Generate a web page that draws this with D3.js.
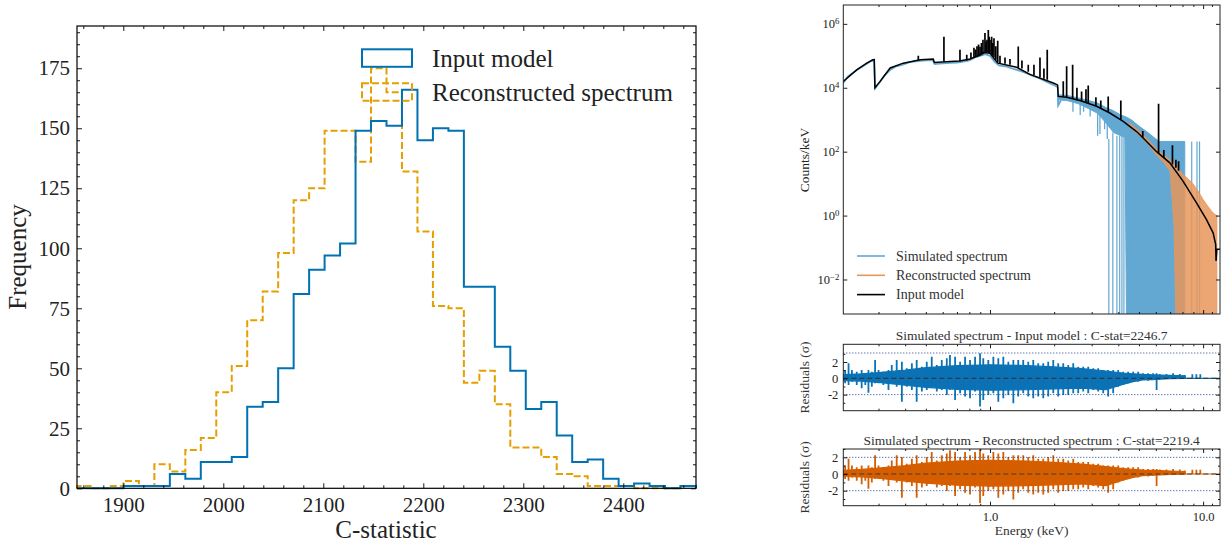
<!DOCTYPE html>
<html lang="en">
<head>
<meta charset="UTF-8">
<title>C-statistic distribution and spectrum</title>
<script src="https://d3js.org/d3.v7.min.js"></script>
<style>
  body { margin: 0; background: #fff; }
</style>
</head>
<body>
<script>
// ---------- left panel: C-statistic histograms (40 bins) ----------
var binStart = 1853.7, binWidth = 15.475;
var inputCounts = [0,0,0,1,1,1,6,4,11,11, 13,34,36,50,81,91,97,102,149,153,
                   151,166,145,150,149,84,84,59,49,33, 36,22,11,12,4,1,2,1,0,1];
var reconCounts = [1,0,1,3,1,10,7,16,21,40, 51,70,82,98,120,125,149,149,136,175,
                   165,132,107,76,75,44,49,35,17,17, 13,6,5,1,1,1,0,0,0,1];
var histXTicks = [1900, 2000, 2100, 2200, 2300, 2400];
var histYTicks = [0, 25, 50, 75, 100, 125, 150, 175];
var histLegend = ["Input model", "Reconstructed spectrum"];

// ---------- right panel: spectrum (energy keV, log10 counts/keV) ----------
var contE   = [0.205,0.237,0.264,0.282,0.2865,0.2885,0.305,0.34,0.392,0.47,0.542,0.548,0.65,0.72,0.806,0.88,0.93,1.0,1.05,1.09,
               1.334,1.54,1.98,2.075,2.09,2.289,2.642,3.165,3.65,4.217,4.872,5.23,6.05,6.98,8.06,9.31,10.37,11.14,11.45,11.5,11.6,12.0];
var contLog = [4.20,4.56,4.77,4.875,4.88,4.0,4.2,4.62,4.77,4.875,4.9,4.79,4.82,4.84,4.9,5.0,5.1,5.08,4.9,4.77,
               4.64,4.42,4.15,4.09,3.73,3.70,3.60,3.42,3.21,2.95,2.63,2.43,2.0,1.65,1.07,0.40,-0.125,-0.54,-0.9,-1.42,-1.05,-1.05];
// emission lines: energy, continuum level, peak level
var lineE    = [0.461,0.608,0.723,0.778,0.814,0.841,0.855,0.869,0.884,0.898,0.912,0.927,0.947,0.958,0.968,0.982,0.991,1.0,1.018,1.03,
                1.044,1.065,1.087,1.114,1.176,1.241,1.357,1.412,1.512,1.608,1.716,1.791,1.856,2.207,2.289,2.442,2.558,2.69,2.82,2.89,
                3.14,3.31,3.586,4.11,5.21,6.18,6.54,7.18,7.45,7.67];
var lineBase = [4.86,4.82,4.83,4.85,4.9,4.95,4.96,4.98,4.99,5.0,5.02,5.05,5.08,5.09,5.1,5.1,5.09,5.08,5.05,5.0,
                4.95,4.88,4.8,4.77,4.75,4.72,4.63,4.6,4.5,4.4,4.33,4.28,4.25,3.72,3.7,3.65,3.6,3.58,3.55,3.52,
                3.42,3.36,3.23,3.0,2.44,1.95,1.8,1.6,1.5,1.4];
var linePeak = [5.0,5.6,5.19,5.03,5.1,5.25,5.2,5.3,5.35,5.28,5.4,5.5,5.71,5.45,5.5,5.81,5.6,5.5,5.6,5.4,
                5.55,5.3,5.47,5.0,4.95,4.9,5.29,4.85,4.72,4.72,4.95,4.6,5.19,4.2,4.67,4.72,4.0,3.88,3.95,4.07,
                3.7,3.6,3.73,3.6,2.65,3.5,2.05,2.2,1.75,1.7];
// simulated spectrum, low-energy part
var simLowE   = [0.205,0.215,0.225,0.24,0.26,0.28,0.286,0.289,0.30,0.32,0.34,0.36,0.39,0.42,0.47,0.50,0.54,0.55,0.60,0.65,
                 0.70,0.75,0.80,0.85,0.90,0.95,1.0,1.05,1.1,1.2,1.3,1.4,1.5,1.6,1.7,1.8,1.9,2.0,2.08,2.09,2.15];
var simLowLog = [4.15,4.35,4.45,4.58,4.72,4.86,4.80,3.98,4.12,4.38,4.56,4.66,4.72,4.80,4.84,4.86,4.86,4.74,4.76,4.78,
                 4.79,4.82,4.86,4.95,5.0,5.05,5.0,4.82,4.70,4.66,4.58,4.52,4.44,4.36,4.30,4.22,4.14,4.08,4.02,3.45,3.6];
// simulated spectrum, high-energy band (-3.2 = empty bins)
var simBandE   = [2.09,2.3,2.6,2.9,3.2,3.5,3.8,4.1,4.3,4.37,4.6,5.0,5.5,6.0,6.2,7.0,8.0,8.2];
var simBandTop = [3.78,3.76,3.68,3.6,3.52,3.38,3.28,3.15,3.1,3.08,3.0,2.8,2.6,2.4,2.32,2.32,2.32,2.32];
var simBandBot = [3.62,3.6,3.5,3.35,3.2,2.9,2.6,2.5,2.45,-3.2,-3.2,-3.2,-3.2,-3.2,-3.2,-3.2,-3.2,-3.2];
var simSpikeE   = [2.09,2.45,2.65,2.75,2.95,3.2,3.28,3.45,3.55];
var simSpikeLow = [3.45,3.25,3.15,3.25,3.1,2.5,2.55,2.7,2.4];
var simSpikeTop = [3.7,3.6,3.55,3.5,3.45,3.4,3.35,3.3,3.25];
var simDropE   = [3.61,3.77,3.94,4.06,4.16,4.25,8.84,9.36,9.62];
var simDropTop = [2.4,2.6,2.5,2.5,2.6,2.5,2.32,2.32,2.32];
// reconstructed spectrum band
var recBandE   = [4.5,5.0,5.5,6.0,6.5,7.0,7.3,7.45,7.6,8.0,8.5,9.0,9.5,10.0,10.5,11.0,11.3,11.6];
var recBandTop = [2.9,2.65,2.38,2.1,1.9,1.74,1.64,1.58,1.5,1.3,1.15,0.98,0.75,0.5,0.3,0.12,0.05,0.0];
var recBandBot = [2.78,2.52,2.25,1.92,1.68,1.4,-0.3,-3.2,-3.2,-3.2,-3.2,-3.2,-3.2,-3.2,-3.2,-3.2,-3.2,-3.2];
var specYTicks = [-2, 0, 2, 4, 6];
var specLegend = ["Simulated spectrum", "Reconstructed spectrum", "Input model"];

// ---------- residuals (sigma): spike extremes and dense core of the residual curve ----------
var resE  = [0.209,0.217,0.225,0.237,0.250,0.260,0.269,0.279,0.289,0.300,
             0.316,0.334,0.346,0.365,0.386,0.407,0.430,0.453,0.479,0.505,
             0.533,0.563,0.594,0.627,0.649,0.686,0.724,0.764,0.806,0.851,
             0.898,0.930,0.982,1.037,1.094,1.155,1.219,1.287,1.357,1.432,
             1.512,1.596,1.684,1.778,1.876,1.981,2.090,2.207,2.329,2.458,
             2.594,2.738,2.890,3.050,3.219,3.398,3.586,3.785,3.995,4.217,
             4.450,4.697,4.958,5.232,5.520,5.830,6.050,6.260,6.730,7.230,
             7.770,8.200,8.3,8.9,9.0,9.3,9.4,9.7,9.8,12.0];
var resHi = [1.02,1.84,1.02,0.82,1.02,0.61,1.02,0.82,2.24,1.02,
             0.82,1.02,1.63,2.24,2.04,1.22,1.84,2.24,1.43,2.04,
             2.65,1.63,2.24,2.45,2.86,2.65,2.04,2.65,2.24,2.65,
             3.06,2.45,2.24,2.65,2.45,2.65,2.04,2.24,2.24,2.24,
             2.04,2.24,1.84,1.84,2.04,2.24,1.84,1.84,1.63,1.84,
             1.43,1.43,1.43,1.22,1.22,1.02,1.02,1.02,1.02,0.82,
             0.82,0.82,0.82,0.61,0.61,0.61,0.61,0.53,0.53,0.61,
             0.53,0.41,0,0.5,0,0.5,0,0.5,0,0];
var resLo = [-0.61,-0.82,-0.41,-0.82,-1.22,-0.82,-1.76,-1.02,-0.61,-0.61,
             -0.82,-1.43,-0.41,-1.02,-2.86,-1.02,-1.43,-2.86,-1.63,-1.43,
             -1.02,-1.63,-1.43,-2.04,-1.43,-2.65,-1.84,-2.24,-2.45,-1.63,
             -3.47,-2.65,-2.04,-1.84,-2.86,-2.45,-2.04,-3.06,-2.24,-1.84,
             -2.24,-2.45,-2.24,-2.45,-2.24,-1.84,-2.24,-2.04,-2.04,-1.84,
             -1.84,-1.63,-1.84,-1.43,-1.63,-1.84,-2.24,-1.84,-1.02,-0.82,
             -0.61,-0.41,-0.41,-0.2,-0.29,-0.2,-1.43,-0.12,-0.04,-0.04,
             -0.04,-0.04,0,0,0,0,0,0,0,0];
var coreE  = [0.205,0.25,0.3,0.4,0.5,0.7,1.0,1.5,2.0,2.7,3.5,4.2,4.7,5.2,5.8,6.3,7.0,8.2,8.3,12.0];
var coreHi = [0.45,0.55,0.7,1.0,1.3,1.55,1.65,1.55,1.4,1.2,0.9,0.65,0.55,0.48,0.44,0.4,0.36,0.3,0,0];
var coreLo = [-0.3,-0.35,-0.5,-0.85,-1.1,-1.35,-1.45,-1.4,-1.3,-1.2,-1.4,-0.75,-0.4,-0.2,-0.15,-0.1,-0.04,-0.02,0,0];
var resYTicks = [-2, 0, 2];
var resPanels = [
  {title: "Simulated spectrum - Input model : C-stat=2246.7", color: "#0b72b5", dom: [-3.97, 4.17], top: 344.3, bottom: 410.7, guides: [3.1, -2]},
  {title: "Simulated spectrum - Reconstructed spectrum : C-stat=2219.4", color: "#d55e00", dom: [-3.8, 3.0], top: 449, bottom: 505.7, guides: [2, -2]}
];
var energyTicks = [1, 10];
var energyMinor = [0.3,0.4,0.5,0.6,0.7,0.8,0.9,2,3,4,5,6,7,8,9,11];

var serif = '"Liberation Serif","Times New Roman",serif';
var svg = d3.select("body").append("svg").attr("width", 1225).attr("height", 545);

function styleAxis(g, fs) {
  g.select(".domain").remove();
  g.attr("font-family", serif).attr("font-size", fs);
  g.selectAll(".tick line").attr("stroke", "#000").attr("stroke-width", 0.9);
  g.selectAll(".tick text").attr("fill", "#222");
  return g;
}
function tickSet(scale, x0, x1, y0, y1, majors, minors, majLen, minLen, horiz) {
  // ticks on all four sides, pointing inward, no labels
  var sides = horiz ? [[d3.axisBottom, y1], [d3.axisTop, y0]] : [[d3.axisLeft, x0], [d3.axisRight, x1]];
  sides.forEach(function (s) {
    [[majors, majLen], [minors, minLen]].forEach(function (m) {
      var g = svg.append("g").attr("transform", horiz ? "translate(0," + s[1] + ")" : "translate(" + s[1] + ",0)")
        .call(s[0](scale).tickValues(m[0]).tickSize(-m[1]).tickFormat(""));
      styleAxis(g, 10);
    });
  });
}

// ================= histogram =================
var hx = d3.scaleLinear().domain([binStart, binStart + binWidth * inputCounts.length]).range([77, 696]);
var hy = d3.scaleLinear().domain([0, 192.6]).range([488.3, 26]);
var edges = d3.range(inputCounts.length + 1).map(function (i) { return binStart + i * binWidth; });
function stepPts(counts) {
  var p = [[edges[0], 0]];
  counts.forEach(function (c, i) { p.push([edges[i], c]); p.push([edges[i + 1], c]); });
  p.push([edges[edges.length - 1], 0]);
  return p;
}
var stepLine = d3.line().x(function (d) { return hx(d[0]); }).y(function (d) { return hy(d[1]); });

svg.append("path").attr("d", stepLine(stepPts(reconCounts))).attr("fill", "none")
  .attr("stroke", "#e69f00").attr("stroke-width", 2).attr("stroke-dasharray", "7,3");
svg.append("path").attr("d", stepLine(stepPts(inputCounts))).attr("fill", "none")
  .attr("stroke", "#0072b2").attr("stroke-width", 2);

var hMinorX = d3.range(1860, 2472, 20).filter(function (v) { return v % 100 !== 0; });
var hMinorY = d3.range(0, 192, 5).filter(function (v) { return v % 25 !== 0; });
tickSet(hx, 77, 696, 26, 488.3, histXTicks, hMinorX, 5, 3, true);
tickSet(hy, 77, 696, 26, 488.3, histYTicks, hMinorY, 5, 3, false);

styleAxis(svg.append("g").attr("transform", "translate(0,488.3)")
  .call(d3.axisBottom(hx).tickValues(histXTicks).tickSize(0).tickPadding(9).tickFormat(d3.format("d"))), 21);
styleAxis(svg.append("g").attr("transform", "translate(77,0)")
  .call(d3.axisLeft(hy).tickValues(histYTicks).tickSize(0).tickPadding(7)), 21);

svg.append("rect").attr("x", 77).attr("y", 26).attr("width", 619).attr("height", 462.3)
  .attr("fill", "none").attr("stroke", "#000").attr("stroke-width", 1.2);

svg.append("text").attr("x", 386).attr("y", 538).attr("text-anchor", "middle")
  .attr("font-family", serif).attr("font-size", 25).attr("fill", "#222").text("C-statistic");
svg.append("text").attr("transform", "translate(26,257) rotate(-90)").attr("text-anchor", "middle")
  .attr("font-family", serif).attr("font-size", 25).attr("fill", "#222").text("Frequency");

// legend
var legColors = ["#0072b2", "#e69f00"];
histLegend.forEach(function (name, i) {
  var y = 49.3 + i * 34;
  svg.append("rect").attr("x", 362).attr("y", y).attr("width", 50).attr("height", 17.5)
    .attr("fill", "none").attr("stroke", legColors[i]).attr("stroke-width", 2)
    .attr("stroke-dasharray", i === 1 ? "7,3" : null);
  svg.append("text").attr("x", 432).attr("y", y + 18).attr("font-family", serif)
    .attr("font-size", 25).attr("fill", "#222").text(name);
});

// ================= spectrum =================
var sx0 = 843.3, sx1 = 1220;
var xE = d3.scaleLog().domain([0.205, 12]).range([sx0, sx1]);
var yS = d3.scaleLinear().domain([-3.08, 6.59]).range([314, 5]);

svg.append("clipPath").attr("id", "clipSpec").append("rect")
  .attr("x", sx0).attr("y", 5).attr("width", sx1 - sx0).attr("height", 309);
var gS = svg.append("g").attr("clip-path", "url(#clipSpec)");

var blue = "#62a8d2", orange = "#e8975a";
var bandArea = d3.area().x(function (d) { return xE(d[0]); })
  .y0(function (d) { return yS(d[2]); }).y1(function (d) { return yS(d[1]); });
var simBand = simBandE.map(function (e, i) { return [e, simBandTop[i], simBandBot[i]]; });
gS.append("path").attr("d", bandArea(simBand)).attr("fill", blue).attr("stroke", blue).attr("stroke-width", 1);
gS.append("path").attr("d", d3.line().x(function (d) { return xE(d[0]); }).y(function (d) { return yS(d[1]); })
  (simLowE.map(function (e, i) { return [e, simLowLog[i]]; })))
  .attr("fill", "none").attr("stroke", blue).attr("stroke-width", 1.8);
gS.selectAll(".simspike").data(simSpikeE).join("line")
  .attr("x1", function (d) { return xE(d); }).attr("x2", function (d) { return xE(d); })
  .attr("y1", function (d, i) { return yS(simSpikeLow[i]); }).attr("y2", function (d, i) { return yS(simSpikeTop[i]); })
  .attr("stroke", blue).attr("stroke-width", 1.3);
gS.selectAll(".simdrop").data(simDropE).join("line")
  .attr("x1", function (d) { return xE(d); }).attr("x2", function (d) { return xE(d); })
  .attr("y1", yS(-3.2)).attr("y2", function (d, i) { return yS(simDropTop[i]); })
  .attr("stroke", blue).attr("stroke-width", 1.2);

var recBand = recBandE.map(function (e, i) { return [e, recBandTop[i], recBandBot[i]]; });
gS.append("path").attr("d", bandArea(recBand)).attr("fill", orange).attr("fill-opacity", 0.85)
  .attr("stroke", orange).attr("stroke-opacity", 0.85).attr("stroke-width", 1);

gS.append("path").attr("d", d3.line().x(function (d) { return xE(d[0]); }).y(function (d) { return yS(d[1]); })
  (contE.map(function (e, i) { return [e, contLog[i]]; })))
  .attr("fill", "none").attr("stroke", "#000").attr("stroke-width", 1.5);
gS.selectAll(".eline").data(lineE).join("line")
  .attr("x1", function (d) { return xE(d); }).attr("x2", function (d) { return xE(d); })
  .attr("y1", function (d, i) { return yS(lineBase[i]); }).attr("y2", function (d, i) { return yS(linePeak[i]); })
  .attr("stroke", "#000").attr("stroke-width", 1.7);

tickSet(xE, sx0, sx1, 5, 314, energyTicks, energyMinor, 4, 2, true);
tickSet(yS, sx0, sx1, 5, 314, specYTicks, [], 4, 2, false);
var gy = styleAxis(svg.append("g").attr("transform", "translate(" + sx0 + ",0)")
  .call(d3.axisLeft(yS).tickValues(specYTicks).tickSize(0).tickPadding(4)), 12.5);
gy.selectAll(".tick text").text(null).each(function (d) {
  var t = d3.select(this);
  t.append("tspan").text("10");
  t.append("tspan").attr("dy", "-0.5em").attr("font-size", "0.7em").text(d < 0 ? "\u2212" + (-d) : d);
});
svg.append("rect").attr("x", sx0).attr("y", 5).attr("width", sx1 - sx0).attr("height", 309)
  .attr("fill", "none").attr("stroke", "#222").attr("stroke-width", 1);
svg.append("text").attr("transform", "translate(809,160) rotate(-90)").attr("text-anchor", "middle")
  .attr("font-family", serif).attr("font-size", 13.5).attr("fill", "#222").text("Counts/keV");

var specLegColors = [blue, orange, "#000"];
specLegend.forEach(function (name, i) {
  var y = 256 + i * 19.3;
  svg.append("line").attr("x1", 857).attr("x2", 885).attr("y1", y).attr("y2", y)
    .attr("stroke", specLegColors[i]).attr("stroke-width", 1.6);
  svg.append("text").attr("x", 896).attr("y", y + 4.5).attr("font-family", serif)
    .attr("font-size", 14).attr("fill", "#333").text(name);
});

// ================= residual panels =================
resPanels.forEach(function (p, k) {
  var ry = d3.scaleLinear().domain(p.dom).range([p.bottom, p.top]);
  var cid = "clipRes" + k;
  svg.append("clipPath").attr("id", cid).append("rect")
    .attr("x", sx0).attr("y", p.top).attr("width", sx1 - sx0).attr("height", p.bottom - p.top);
  var g = svg.append("g").attr("clip-path", "url(#" + cid + ")");
  var core = d3.area().x(function (d, i) { return xE(coreE[i]); })
    .y0(function (d, i) { return ry(coreLo[i]); }).y1(function (d, i) { return ry(coreHi[i]); });
  g.append("path").attr("d", core(coreE)).attr("fill", p.color).attr("stroke", p.color).attr("stroke-width", 1.2);
  g.selectAll(".spike").data(resE).join("line")
    .attr("x1", function (d) { return xE(d); }).attr("x2", function (d) { return xE(d); })
    .attr("y1", function (d, i) { return ry(resLo[i]); }).attr("y2", function (d, i) { return ry(resHi[i]); })
    .attr("stroke", p.color).attr("stroke-width", 1.8);
  g.append("line").attr("x1", sx0).attr("x2", sx1).attr("y1", ry(0)).attr("y2", ry(0))
    .attr("stroke", "#333").attr("stroke-width", 1.2).attr("stroke-dasharray", "5,3").attr("opacity", 0.85);
  p.guides.forEach(function (v) {
    g.append("line").attr("x1", sx0).attr("x2", sx1).attr("y1", ry(v)).attr("y2", ry(v))
      .attr("stroke", "#1c3a8c").attr("stroke-width", 1).attr("stroke-dasharray", "1,2");
  });
  tickSet(xE, sx0, sx1, p.top, p.bottom, energyTicks, energyMinor, 4, 2, true);
  tickSet(ry, sx0, sx1, p.top, p.bottom, resYTicks, [-3, -1, 1, 3], 4, 2, false);
  styleAxis(svg.append("g").attr("transform", "translate(" + sx0 + ",0)")
    .call(d3.axisLeft(ry).tickValues(resYTicks).tickSize(0).tickPadding(5).tickFormat(function (d) { return d < 0 ? "-" + (-d) : d; })), 12.5);
  svg.append("rect").attr("x", sx0).attr("y", p.top).attr("width", sx1 - sx0).attr("height", p.bottom - p.top)
    .attr("fill", "none").attr("stroke", "#222").attr("stroke-width", 1);
  svg.append("text").attr("x", (sx0 + sx1) / 2).attr("y", p.top - 4.5).attr("text-anchor", "middle")
    .attr("font-family", serif).attr("font-size", 13.5).attr("fill", "#333").text(p.title);
  svg.append("text").attr("transform", "translate(809," + (p.top + p.bottom) / 2 + ") rotate(-90)")
    .attr("text-anchor", "middle").attr("font-family", serif).attr("font-size", 13.5).attr("fill", "#333")
    .text("Residuals (\u03c3)");
});

styleAxis(svg.append("g").attr("transform", "translate(0,505.7)")
  .call(d3.axisBottom(xE).tickValues(energyTicks).tickSize(0).tickPadding(6).tickFormat(d3.format(".1f"))), 12.5);
svg.append("text").attr("x", (sx0 + sx1) / 2).attr("y", 535).attr("text-anchor", "middle")
  .attr("font-family", serif).attr("font-size", 13.5).attr("fill", "#333").text("Energy (keV)");
</script>
</body>
</html>
